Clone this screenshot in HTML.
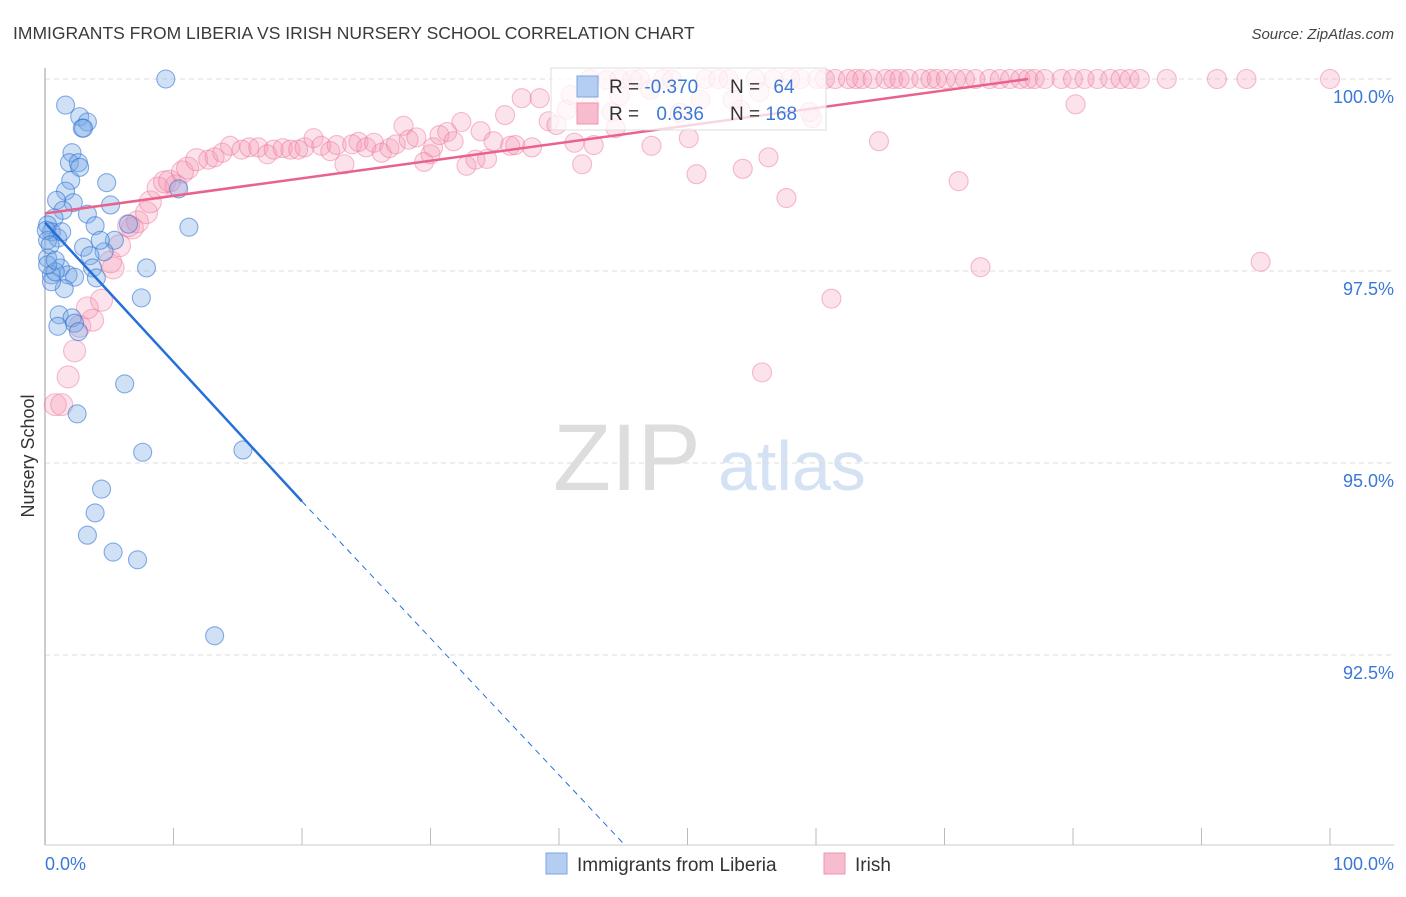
<!DOCTYPE html>
<html><head><meta charset="utf-8"><style>
body{margin:0;background:#fff;font-family:"Liberation Sans",sans-serif}
svg text{font-family:"Liberation Sans",sans-serif}
</style></head><body>
<svg id="chart" width="1406" height="892" xmlns="http://www.w3.org/2000/svg">
<text x="13" y="39" font-size="17.5" fill="#3a3a3a">IMMIGRANTS FROM LIBERIA VS IRISH NURSERY SCHOOL CORRELATION CHART</text>
<text x="1394" y="39" font-size="15" fill="#444" text-anchor="end" font-style="italic">Source: ZipAtlas.com</text>
<g>
<text x="553" y="490" font-size="95" fill="#ddd" font-family="Liberation Serif,serif">ZIP</text>
<text x="718" y="490" font-size="70" fill="#d4e2f4">atlas</text>
</g>
<g id="grid"></g>
<g id="ylabels"></g>
<text transform="translate(34,456) rotate(-90)" font-size="18" fill="#333" text-anchor="middle">Nursery School</text>
<line x1="45" y1="68" x2="45" y2="845" stroke="#bbb" stroke-width="1.5"/>
<line x1="45" y1="845" x2="1394" y2="845" stroke="#ccc" stroke-width="1"/>
<g id="xticks"></g>
<text x="45" y="870" font-size="18" fill="#3b78d8">0.0%</text>
<text x="1394" y="870" font-size="18" fill="#3b78d8" text-anchor="end">100.0%</text>
<g id="pink"></g>
<g id="blue"></g>
<g id="lines"></g>
<g>
<rect x="551" y="68" width="275" height="62" fill="rgba(255,255,255,0.75)" stroke="#ddd"/>
<rect x="577" y="76" width="21" height="21" fill="#b5cdf0" stroke="#7aa6e6"/>
<rect x="577" y="103" width="21" height="21" fill="#f7bccd" stroke="#ee95b0"/>
<text x="609" y="93" font-size="19" fill="#333">R = <tspan fill="#3b78d8">-0.370</tspan></text>
<text x="730" y="93" font-size="19" fill="#333">N = <tspan fill="#3b78d8" dx="8">64</tspan></text>
<text x="609" y="120" font-size="19" fill="#333">R = <tspan fill="#3b78d8" dx="12">0.636</tspan></text>
<text x="730" y="120" font-size="19" fill="#333">N = <tspan fill="#3b78d8">168</tspan></text>
</g>
<g>
<rect x="546" y="853" width="21" height="21" fill="#b5cdf0" stroke="#7aa6e6"/>
<text x="577" y="871" font-size="19" fill="#333">Immigrants from Liberia</text>
<rect x="824" y="853" width="21" height="21" fill="#f7bccd" stroke="#ee95b0"/>
<text x="855" y="871" font-size="19" fill="#333">Irish</text>
</g>
</svg>
<script>
const yTicks=[100,97.5,95,92.5];
const yTickLabels=["100.0%","97.5%","95.0%","92.5%"];
const xTicks=[0,10,20,30,40,50,60,70,80,90,100];
const blueX=[9.4,1.6,2.7,3.3,2.9,3.0,2.1,1.9,2.6,2.7,2.0,1.6,2.2,0.9,4.8,5.1,1.4,3.3,10.4,0.7,0.2,0.5,1.0,11.2,5.4,6.5,4.6,3.0,3.5,0.2,1.2,1.8,2.3,3.7,7.9,0.5,1.5,4.0,0.5,7.5,1.1,2.1,1.0,2.3,2.6,6.2,2.5,7.6,15.4,4.4,3.9,3.3,5.3,7.2,13.2,0.2,0.1,0.4,0.8,1.3,3.9,4.3,0.2,0.8];
const blueY=[100,99.66,99.51,99.44,99.36,99.36,99.04,98.91,98.91,98.85,98.68,98.54,98.39,98.42,98.65,98.36,98.29,98.24,98.57,98.19,98.10,98.01,97.93,98.07,97.90,98.11,97.75,97.81,97.70,97.67,97.54,97.45,97.42,97.54,97.54,97.45,97.27,97.41,97.36,97.15,96.93,96.89,96.78,96.82,96.71,96.03,95.64,95.14,95.17,94.66,94.35,94.06,93.84,93.74,92.75,97.90,98.03,97.84,97.49,98.01,98.09,97.90,97.58,97.64];
const pinkX=[0.8,1.3,1.8,2.3,2.7,3.7,3.3,4.4,5.3,5.1,5.8,6.8,6.5,7.2,7.9,8.2,8.8,9.3,10.2,9.7,10.7,11.1,11.8,12.7,13.2,13.8,14.4,15.3,15.9,16.6,17.3,17.8,18.5,19.1,19.7,20.2,20.9,21.5,22.2,22.7,23.3,23.9,24.4,25.0,25.6,26.2,26.8,27.3,27.9,28.3,28.9,29.5,30.0,30.2,30.7,31.3,31.8,32.4,32.8,33.5,33.9,34.4,34.9,35.8,36.2,36.6,37.1,37.9,38.5,39.2,39.8,40.6,41.2,41.8,42.4,42.7,43.7,44.1,44.7,45.7,46.3,47.2,48.1,48.8,49.4,50.1,50.7,51.4,52.4,53.2,54.1,54.3,55.3,56.3,56.7,57.7,58.0,58.8,59.7,60.1,60.7,61.2,61.5,62.5,63.1,63.6,64.4,64.9,65.4,66.0,66.5,67.2,68.2,68.9,69.4,70.1,70.9,71.1,71.6,72.4,72.8,73.5,74.3,75.1,75.9,76.5,77.0,77.8,79.1,80.0,80.2,80.9,81.9,82.9,83.7,84.4,85.2,87.3,91.2,93.5,94.6,100,55.8,42.4,44.7,40.9,44.4,51.0,53.5,55.6,59.5,47.1];
const pinkY=[95.76,95.76,96.12,96.46,96.78,96.86,97.02,97.12,97.54,97.62,97.83,98.06,98.09,98.14,98.26,98.40,98.58,98.66,98.61,98.67,98.79,98.84,98.95,98.95,98.98,99.04,99.13,99.08,99.11,99.11,99.02,99.08,99.10,99.08,99.08,99.11,99.23,99.13,99.06,99.14,98.89,99.15,99.18,99.11,99.17,99.04,99.10,99.15,99.39,99.21,99.24,98.92,99.02,99.11,99.27,99.31,99.19,99.44,98.87,98.95,99.32,98.96,99.19,99.53,99.13,99.14,99.75,99.11,99.75,99.45,99.40,99.60,99.17,98.89,99.65,99.14,99.99,99.57,99.78,99.99,100,99.13,100,99.99,99.56,99.23,98.76,100,100,100,99.60,98.83,100,98.98,100,98.45,100,100,99.49,100,100,97.14,100,100,100,100,100,99.19,100,100,100,100,100,100,100,100,100,98.67,100,100,97.55,100,100,100,100,100,100,100,100,100,99.67,100,100,100,100,100,100,100,100,100,97.62,100,96.18,100,100,99.79,99.36,99.73,99.73,99.83,99.57,99.86,99.9];
const blueLine=[[0,98.13],[20,94.5]];
const blueDash=[[20,94.5],[45.1,90.03]];
const pinkLine=[[0,98.25],[76.5,100]];
const NS="http://www.w3.org/2000/svg";
function xs(v){return 45+v*12.85;}
function ys(v){return 79+(100-v)*76.8;}
function mk(tag,parent,attrs){const e=document.createElementNS(NS,tag);for(const k in attrs)e.setAttribute(k,attrs[k]);document.getElementById(parent).appendChild(e);return e;}
yTicks.forEach((t,i)=>{
  const g=mk('line','grid',{x1:45,x2:1394,y1:ys(t),y2:ys(t),stroke:'#ddd','stroke-dasharray':'5,4'});
  
  
  const l=mk('text','ylabels',{x:1394,y:ys(t)+24,'font-size':18,fill:'#3b78d8','text-anchor':'end'});
  l.textContent=yTickLabels[i];
  
  
});
xTicks.forEach(t=>{
  const k=mk('line','xticks',{x1:xs(t),x2:xs(t),y1:828,y2:845,stroke:'#bbb'});
  
  
});
pinkX.forEach((v,i)=>{
  if(pinkY[i]===undefined)return;
  const c=mk('circle','pink',{cx:xs(v),cy:ys(pinkY[i]),r:v<12?11:9.5,fill:'rgba(245,150,180,0.28)',stroke:'rgba(236,110,150,0.45)','stroke-width':1.1});
  
  
});
blueX.forEach((v,i)=>{
  const c=mk('circle','blue',{cx:xs(v),cy:ys(blueY[i]),r:9,fill:'rgba(120,170,230,0.35)',stroke:'rgba(40,110,210,0.55)','stroke-width':1.1});
  
  
});
function ln(p,st,dash,name){
  const e=mk('line','lines',{x1:xs(p[0][0]),y1:ys(p[0][1]),x2:xs(p[1][0]),y2:ys(p[1][1]),stroke:st,'stroke-width':dash?1:2.5});
  if(dash)e.setAttribute('stroke-dasharray','6,5');
  
  
}
ln(pinkLine,'#e8628c',false,'irish-trend-line');
ln(blueLine,'#2470d8',false,'liberia-trend-line');
ln(blueDash,'#2470d8',true,'liberia-trend-extension');
</script>
</body></html>
